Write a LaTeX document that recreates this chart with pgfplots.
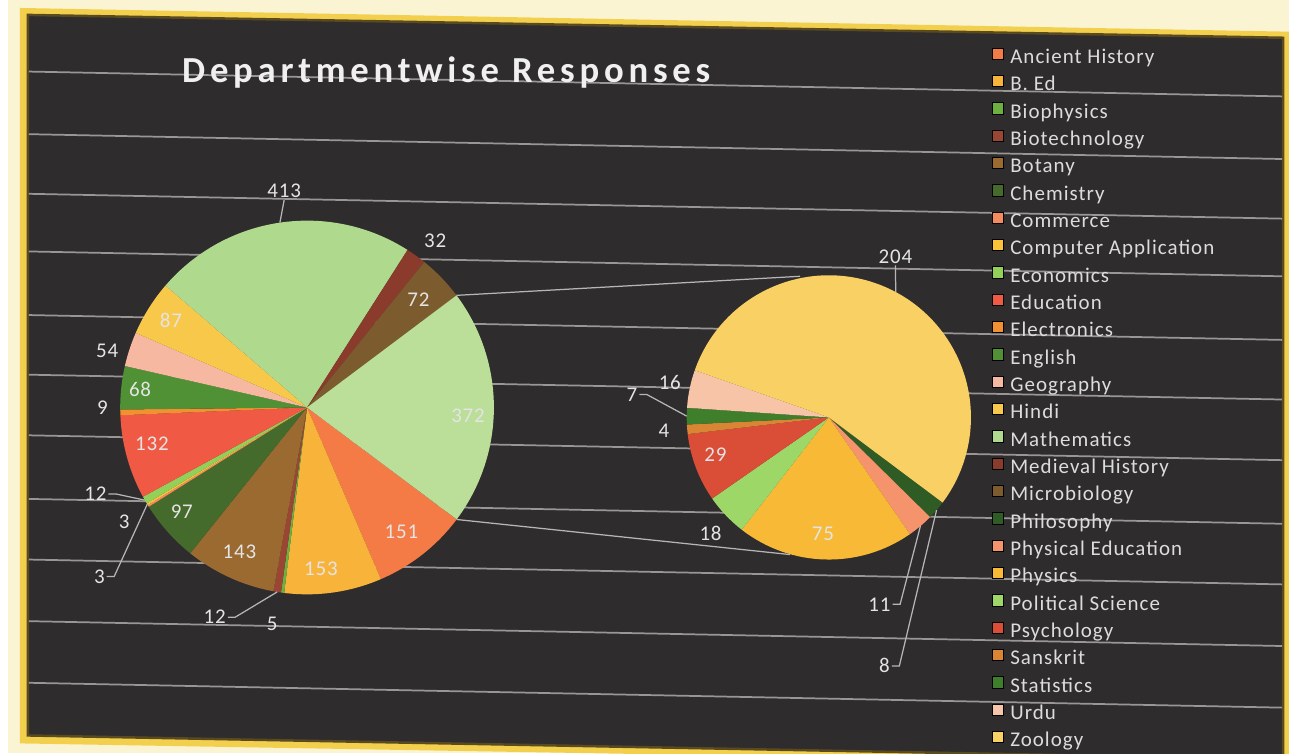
\documentclass[border=0pt]{standalone}
\usepackage{fontspec}
\setmainfont{Carlito}
\newfontfamily\titlefont[LetterSpace=13]{Carlito}
\newfontfamily\legfont[LetterSpace=5]{Carlito}
\newfontfamily\lblfont[LetterSpace=4]{Carlito}
\usepackage{pgfplots}
\usepackage{pgfplotstable}
\pgfplotsset{compat=1.18}

% slice colours
\definecolor{cAH}{HTML}{F47B46}
\definecolor{cBEd}{HTML}{F8B43A}
\definecolor{cBph}{HTML}{6CB040}
\definecolor{cBtc}{HTML}{9B4634}
\definecolor{cBot}{HTML}{9A6A31}
\definecolor{cChe}{HTML}{446A2C}
\definecolor{cCom}{HTML}{F58A5C}
\definecolor{cCA}{HTML}{F9C237}
\definecolor{cEco}{HTML}{92D05A}
\definecolor{cEdu}{HTML}{F05A45}
\definecolor{cEle}{HTML}{F3902F}
\definecolor{cEng}{HTML}{4F9134}
\definecolor{cGeo}{HTML}{F6B8A0}
\definecolor{cHin}{HTML}{F8C84A}
\definecolor{cMat}{HTML}{AFD98C}
\definecolor{cMed}{HTML}{8A3B2C}
\definecolor{cMic}{HTML}{7C5C2E}
\definecolor{cOth}{HTML}{BBDE98}
\definecolor{cPhi}{HTML}{2F5C24}
\definecolor{cPE}{HTML}{F5936C}
\definecolor{cPhy}{HTML}{F8BA36}
\definecolor{cPol}{HTML}{9CD768}
\definecolor{cPsy}{HTML}{DA4E37}
\definecolor{cSan}{HTML}{D98534}
\definecolor{cSta}{HTML}{3F7F2C}
\definecolor{cUrd}{HTML}{F7C4A8}
\definecolor{cZoo}{HTML}{F9D064}
% page colours
\definecolor{bgdark}{HTML}{2F2C2D}
\definecolor{cream}{HTML}{FBF4D2}
\definecolor{ybord}{HTML}{F2D04E}
\definecolor{bline}{HTML}{5A4A20}
\definecolor{rule}{HTML}{9A9696}
\definecolor{legtext}{HTML}{DCDCDC}
\definecolor{lbltext}{HTML}{E4E4E4}

% main pie (label positions lx, ly in pixels from top-left)
\pgfplotstableread[col sep=comma,row sep=\\]{
name,value,col,lx,ly\\
Ancient History,151,cAH,396,535\\
B. Ed,153,cBEd,315,572\\
Biophysics,5,cBph,266,628\\
Biotechnology,12,cBtc,208,621\\
Botany,143,cBot,233,555\\
Chemistry,97,cChe,175,515\\
Commerce,3,cCom,117,525\\
Computer Application,3,cCA,92,580\\
Economics,12,cEco,88,497\\
Education,132,cEdu,145,447\\
Electronics,9,cEle,95,410\\
English,68,cEng,133,392\\
Geography,54,cGeo,100,353\\
Hindi,87,cHin,164,322\\
Mathematics,413,cMat,278,192\\
Medieval History,32,cMed,430,242\\
Microbiology,72,cMic,413,302\\
Other,372,cOth,463,418\\
}\lefttbl

% secondary pie
\pgfplotstableread[col sep=comma,row sep=\\]{
name,value,col,lx,ly\\
Philosophy,8,cPhi,882,670\\
Physical Education,11,cPE,877,608\\
Physics,75,cPhy,820,537\\
Political Science,18,cPol,707,537\\
Psychology,29,cPsy,712,458\\
Sanskrit,4,cSan,660,433\\
Statistics,7,cSta,628,397\\
Urdu,16,cUrd,666,385\\
Zoology,204,cZoo,893,258\\
}\righttbl

\makeatletter
% #1 table, #2 prefix, #3 start angle (slices run clockwise)
\newcommand\piesetup[3]{%
  \pgfplotstablegetrowsof{#1}%
  \pgfmathtruncatemacro\pie@n{\pgfplotsretval-1}%
  \def\pie@tot{0}%
  \pgfplotsforeachungrouped \ii in {0,...,\pie@n}{%
    \pgfplotstablegetelem{\ii}{value}\of#1%
    \pgfmathsetmacro\pie@tot{\pie@tot+\pgfplotsretval}%
  }%
  \def\pie@a{#3}%
  \pgfplotsforeachungrouped \ii in {0,...,\pie@n}{%
    \pgfplotstablegetelem{\ii}{value}\of#1%
    \let\pie@v\pgfplotsretval
    \pgfmathsetmacro\pie@b{\pie@a-\pie@v/\pie@tot*360}%
    \pgfmathsetmacro\pie@m{(\pie@a+\pie@b)/2}%
    \expandafter\xdef\csname #2s\ii\endcsname{\pie@a}%
    \expandafter\xdef\csname #2e\ii\endcsname{\pie@b}%
    \expandafter\xdef\csname #2m\ii\endcsname{\pie@m}%
    \expandafter\xdef\csname #2v\ii\endcsname{\pie@v}%
    \pgfplotstablegetelem{\ii}{col}\of#1%
    \colorlet{#2col\ii}{\pgfplotsretval}%
    \pgfplotstablegetelem{\ii}{lx}\of#1%
    \expandafter\xdef\csname #2x\ii\endcsname{\pgfplotsretval}%
    \pgfplotstablegetelem{\ii}{ly}\of#1%
    \pgfmathsetmacro\pie@y{758-\pgfplotsretval}%
    \expandafter\xdef\csname #2y\ii\endcsname{\pie@y}%
    \pgfplotstablegetelem{\ii}{name}\of#1%
    \expandafter\xdef\csname #2n\ii\endcsname{\pgfplotsretval}%
    \let\pie@a\pie@b
  }%
}
\makeatother

\begin{document}
\piesetup{\lefttbl}{L}{-36.83}
\piesetup{\righttbl}{R}{-36.83}
\begin{tikzpicture}[
  lbl/.style={text=lbltext, font=\lblfont\fontsize{12pt}{13pt}\selectfont, inner sep=1pt},
  lead/.style={draw=lbltext!80!black, line width=0.25mm},
]
\begin{axis}[
  x=0.2mm, y=0.2mm,
  xmin=0, xmax=1289, ymin=0, ymax=758,
  hide axis, clip=false,
  legend cell align=left,
  legend style={at={(axis cs:990,711)}, anchor=north west,
    draw=none, fill=none, text=legtext,
    font=\legfont\fontsize{12pt}{13pt}\selectfont,
    inner sep=0pt, row sep=1.1mm,
    nodes={inner sep=0pt, text height=3.3mm, text depth=1.1mm},
    /tikz/every odd column/.append style={column sep=1.3mm}},
  legend image code/.code={\fill[#1] (0mm,-0.25mm) rectangle (2.2mm,2.0mm);},
]
% page, frame and the ruled lines of the photo
\fill[cream] (axis cs:0,0) rectangle (axis cs:1289,758);
\fill[ybord] (axis cs:12,750) -- (axis cs:1296,726) -- (axis cs:1296,-12) -- (axis cs:12,10) -- cycle;
\filldraw[fill=bgdark, draw=bline, line width=0.5mm] (axis cs:20,743) -- (axis cs:1283,720) -- (axis cs:1283,-6) -- (axis cs:20,18) -- cycle;
\pgfplotsinvokeforeach{72,135,195,253,317,377,438,502,563,625,687}{
  \draw[rule, line width=0.35mm] (axis cs:21,758-#1) -- (axis cs:1282,733-#1);
}

% main pie
\pgfplotsinvokeforeach{0,...,17}{
  \fill[Lcol#1] (axis cs:301,348) -- ++(\csname Ls#1\endcsname:37.6mm)
    arc[start angle=\csname Ls#1\endcsname, end angle=\csname Le#1\endcsname, radius=37.6mm] -- cycle;
}
% secondary pie
\pgfplotsinvokeforeach{0,...,8}{
  \fill[Rcol#1] (axis cs:826,338) -- ++(\csname Rs#1\endcsname:28.6mm)
    arc[start angle=\csname Rs#1\endcsname, end angle=\csname Re#1\endcsname, radius=28.6mm] -- cycle;
}
% connector lines
\draw[lead] (axis cs:301,348) ++(\csname Ls17\endcsname:37.6mm) -- (axis cs:797,480);
\draw[lead] (axis cs:301,348) ++(\csname Ls0\endcsname:37.6mm) -- (axis cs:787,200);

% data labels
\pgfplotsinvokeforeach{0,...,17}{
  \node[lbl] (L#1) at (axis cs:\csname Lx#1\endcsname,\csname Ly#1\endcsname) {\csname Lv#1\endcsname};
}
\pgfplotsinvokeforeach{0,...,8}{
  \node[lbl] (R#1) at (axis cs:\csname Rx#1\endcsname,\csname Ry#1\endcsname) {\csname Rv#1\endcsname};
}
% leader lines of the outside labels
\pgfplotsinvokeforeach{3,7,8}{
  \draw[lead] (axis cs:301,348) ++(\csname Lm#1\endcsname:37.6mm) -- ([xshift=1.5mm]L#1.east) -- (L#1.east);
}
\draw[lead] (axis cs:301,348) ++(\csname Lm14\endcsname:37.6mm) -- (L14.south);
\pgfplotsinvokeforeach{0,1,6}{
  \draw[lead] (axis cs:826,338) ++(\csname Rm#1\endcsname:28.6mm) -- ([xshift=1.5mm]R#1.east) -- (R#1.east);
}
\draw[lead] (axis cs:826,338) ++(\csname Rm8\endcsname:28.6mm) -- (R8.south);

% title
\node[anchor=base west, text=white!94!black, font=\titlefont\bfseries\fontsize{21pt}{23pt}\selectfont, inner sep=0pt]
  at (axis cs:175,675) {Departmentwise Responses};

% legend
\pgfplotsinvokeforeach{0,...,16}{
  \addlegendimage{fill=Lcol#1}
  \addlegendentryexpanded{\csname Ln#1\endcsname}
}
\pgfplotsinvokeforeach{0,...,8}{
  \addlegendimage{fill=Rcol#1}
  \addlegendentryexpanded{\csname Rn#1\endcsname}
}
\end{axis}
\pgfresetboundingbox
\useasboundingbox (0,0) rectangle (257.8mm,151.6mm);
\end{tikzpicture}
\end{document}
